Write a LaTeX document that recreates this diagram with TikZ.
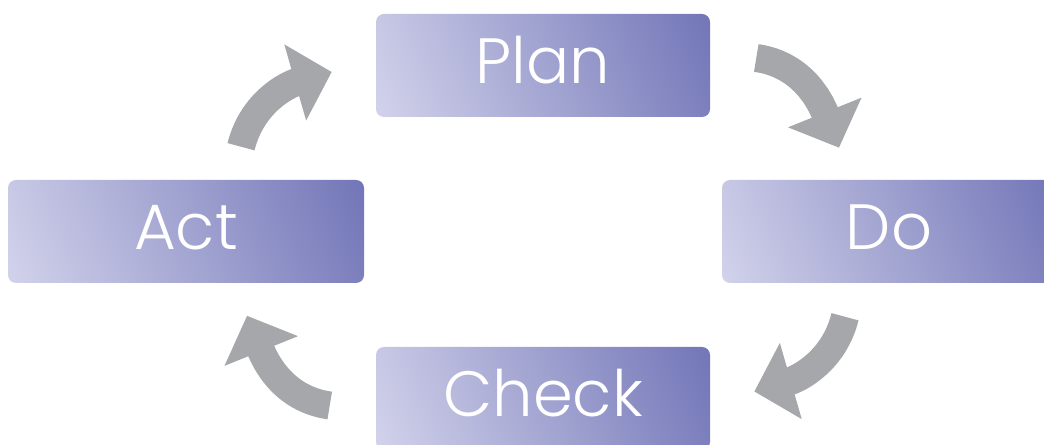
\documentclass[tikz,border=0pt]{standalone}
\usepackage{fontspec}
\setsansfont{Poppins Light}
\usepackage{xcolor}
\usepackage{tikz}
\usetikzlibrary{arrows.meta}
\definecolor{Lilac}{HTML}{DADAEF}
\definecolor{Indigo}{HTML}{6A6EB3}
\definecolor{Ash}{HTML}{A6A7AA}
\pgfdeclareverticalshading{stagefill}{100bp}{color(0bp)=(Lilac); color(12bp)=(Lilac); color(88bp)=(Indigo); color(100bp)=(Indigo)}

\begin{document}
\begin{tikzpicture}[x=0.75pt,y=0.75pt,
  stage/.style={rounded corners=6pt,shading=stagefill,shading angle=-68,minimum width=250.5pt,minimum height=77.25pt,inner sep=0pt,text height=34pt,text depth=7pt,text=white,font=\sffamily\fontsize{48}{48}\selectfont},
  bendarrow/.style={Ash,line width=21pt,-{Triangle[length=28.5pt,width=57.75pt]}}]
\useasboundingbox (0,0) rectangle (1044,445);
\clip (0,0) rectangle (1044,445);
\node[stage] (plan) at (543,379.5) {Plan};
\node[stage,minimum width=267pt] (act) at (186,213.5) {Act};
\node[stage] (do) at (889,213.5) {Do};
\node[stage] (check) at (543,46.5) {Check};
\draw[bendarrow] ([shift={(55,33)}]act.north) to[out=76,in=196] ([shift={(-44,-6.5)}]plan.west);
\draw[bendarrow] ([shift={(46,7.5)}]plan.east) to[out=-8,in=112] ([shift={(-50,32)}]do.north);
\draw[bendarrow] ([shift={(-44,-33.5)}]do.south) to[out=256,in=16] ([shift={(44,7)}]check.east);
\draw[bendarrow] ([shift={(-46,-7)}]check.west) to[out=172,in=-68] ([shift={(61,-32.5)}]act.south);
\end{tikzpicture}
\end{document}
